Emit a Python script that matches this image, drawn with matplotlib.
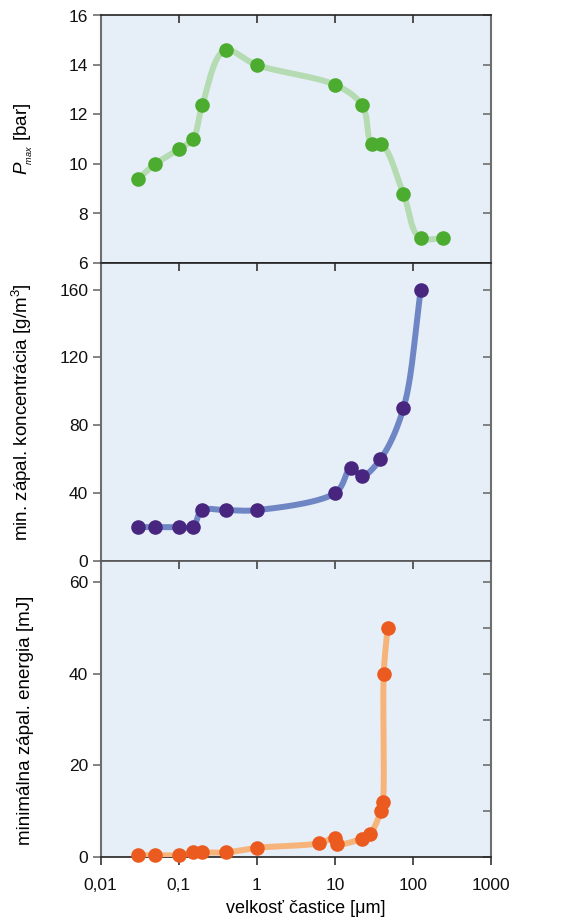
import numpy as np
import matplotlib
matplotlib.use("Agg")
import matplotlib.pyplot as plt

plt.rcParams['font.family'] = ['Liberation Sans', 'DejaVu Sans']
plt.rcParams['mathtext.fontset'] = 'custom'
plt.rcParams['mathtext.rm'] = 'Liberation Sans'
plt.rcParams['mathtext.it'] = 'Liberation Sans:italic'

# ---- data ----
pmax_x = [0.03, 0.05, 0.1, 0.15, 0.2, 0.4, 1.0, 10, 22, 30, 39, 75, 125, 240]
pmax_y = [9.4, 10.0, 10.6, 11.0, 12.4, 14.6, 14.0, 13.2, 12.4, 10.8, 10.8, 8.8, 7.0, 7.0]

conc_x = [0.03, 0.05, 0.1, 0.15, 0.2, 0.4, 1.0, 10, 16, 22, 38, 75, 125]
conc_y = [20, 20, 20, 20, 30, 30, 30, 40, 55, 50, 60, 90, 160]

mie_x = [0.03, 0.05, 0.1, 0.15, 0.2, 0.4, 1.0, 6.2, 10, 10.5, 22, 28, 38.5, 41, 42, 47]
mie_y = [0.4, 0.4, 0.4, 1.0, 1.0, 1.0, 2.0, 3.0, 4.2, 2.8, 4.0, 5.0, 10, 12, 40, 50]

xticks = [0.01, 0.1, 1, 10, 100, 1000]
xticklabels = ['0,01', '0,1', '1', '10', '100', '1000']
pmax_ticks = [6, 8, 10, 12, 14, 16]
conc_ticks = [0, 40, 80, 120, 160]
mie_ticks = [0, 20, 40, 60]
mie_right_ticks = [0, 10, 20, 30, 40, 50, 60]

BG = '#e6eef8'
SPINE_GRAY = '#6e6e6e'


def smooth(x, y, yspan, n=40):
    u = np.log10(np.asarray(x, float)) / 5.0
    v = np.asarray(y, float) / yspan
    P = np.column_stack([u, v])
    P = np.vstack([2 * P[0] - P[1], P, 2 * P[-1] - P[-2]])
    out = []
    for i in range(1, len(P) - 2):
        p0, p1, p2, p3 = P[i - 1], P[i], P[i + 1], P[i + 2]
        def tj(ti, a, b):
            return ti + max(np.linalg.norm(b - a), 1e-6) ** 0.5
        t0 = 0.0
        t1 = tj(t0, p0, p1)
        t2 = tj(t1, p1, p2)
        t3 = tj(t2, p2, p3)
        t = np.linspace(t1, t2, n)[:, None]
        A1 = (t1 - t) / (t1 - t0) * p0 + (t - t0) / (t1 - t0) * p1
        A2 = (t2 - t) / (t2 - t1) * p1 + (t - t1) / (t2 - t1) * p2
        A3 = (t3 - t) / (t3 - t2) * p2 + (t - t2) / (t3 - t2) * p3
        B1 = (t2 - t) / (t2 - t0) * A1 + (t - t0) / (t2 - t0) * A2
        B2 = (t3 - t) / (t3 - t1) * A2 + (t - t1) / (t3 - t1) * A3
        C = (t2 - t) / (t2 - t1) * B1 + (t - t1) / (t2 - t1) * B2
        out.append(C)
    C = np.vstack(out)
    return 10 ** (C[:, 0] * 5.0), C[:, 1] * yspan


W, H = 574, 921
fig = plt.figure(figsize=(W / 100, H / 100), dpi=100)
left = 100.7 / W
width = 390.6 / W


def make_ax(top_px, bot_px):
    return fig.add_axes([left, 1 - bot_px / H, width, (bot_px - top_px) / H])


ax1 = make_ax(15.5, 263)
ax2 = make_ax(263, 561)
ax3 = make_ax(561, 857)

panels = [
    (ax1, pmax_x, pmax_y, (6, 16), pmax_ticks, pmax_ticks, '#b4dbb1', '#4cac2f'),
    (ax2, conc_x, conc_y, (0, 175.7), conc_ticks, conc_ticks, '#6f86c4', '#48267f'),
    (ax3, mie_x, mie_y, (0, 64.6), mie_ticks, mie_right_ticks, '#f7b47a', '#eb5b20'),
]

for i, (ax, x, y, ylim, lt, rt, lc, mc) in enumerate(panels):
    ax.set_facecolor(BG)
    ax.set_xscale('log')
    ax.set_xlim(0.01, 1000)
    ax.set_ylim(*ylim)
    sx, sy = smooth(x, y, ylim[1] - ylim[0])
    ax.plot(sx, sy, color=lc, lw=4.3, solid_capstyle='round', zorder=3)
    ax.plot(x, y, 'o', color=mc, ms=10.5, mec='none', zorder=5, clip_on=False)

    ax.set_xticks(xticks)
    ax.xaxis.set_minor_locator(matplotlib.ticker.NullLocator())
    ax.set_yticks(lt)
    ax.yaxis.set_minor_locator(matplotlib.ticker.NullLocator())
    ax.tick_params(axis='y', direction='out', length=6, width=1.2, color=SPINE_GRAY,
                   labelsize=12.5, labelcolor='#111111', pad=3, right=False)
    if i < 2:
        ax.tick_params(axis='x', direction='in', length=6, width=1.2, color='#333333',
                       top=True, bottom=False, labeltop=False, labelbottom=False)
    else:
        ax.tick_params(axis='x', direction='out', length=6, width=1.2, color='#333333',
                       top=False, bottom=True, labelbottom=True, labelsize=12.5,
                       labelcolor='#111111', pad=9)
        ax.set_xticklabels(xticklabels)
        sec = ax.secondary_xaxis('top')
        sec.set_xticks(xticks)
        sec.xaxis.set_minor_locator(matplotlib.ticker.NullLocator())
        sec.tick_params(axis='x', direction='in', length=6, width=1.2, color='#444444',
                        labeltop=False)
        sec.spines['top'].set_visible(False)
    secy = ax.secondary_yaxis('right')
    secy.set_yticks(rt)
    secy.yaxis.set_minor_locator(matplotlib.ticker.NullLocator())
    secy.tick_params(axis='y', direction='in', length=6, width=1.2, color=SPINE_GRAY,
                     labelright=False)
    secy.spines['right'].set_visible(False)

    for s in ['left', 'right']:
        ax.spines[s].set_color(SPINE_GRAY)
        ax.spines[s].set_linewidth(1.5)
    ax.spines['top'].set_color('#222222')
    ax.spines['top'].set_linewidth(1.2)
    ax.spines['bottom'].set_color('#222222')
    ax.spines['bottom'].set_linewidth(1.2)

ax2.spines['bottom'].set_color('#555555')
ax3.spines['top'].set_color('#555555')

ax1.set_ylabel(r'$P_{\!_{max}}$ [bar]', fontsize=13.5)
ax1.yaxis.set_label_coords(-0.168, 0.5)
ax2.set_ylabel(r'min. zápal. koncentrácia [g/m$^{3}$]', fontsize=13.5)
ax2.yaxis.set_label_coords(-0.172, 0.5)
ax3.set_ylabel('minimálna zápal. energia [mJ]', fontsize=13.5)
ax3.yaxis.set_label_coords(-0.172, 0.463)
ax3.set_xlabel('velkosť častice [μm]', fontsize=13)
ax3.xaxis.set_label_coords(0.526, -0.145)

fig.savefig('out.png', dpi=100, facecolor='white')
